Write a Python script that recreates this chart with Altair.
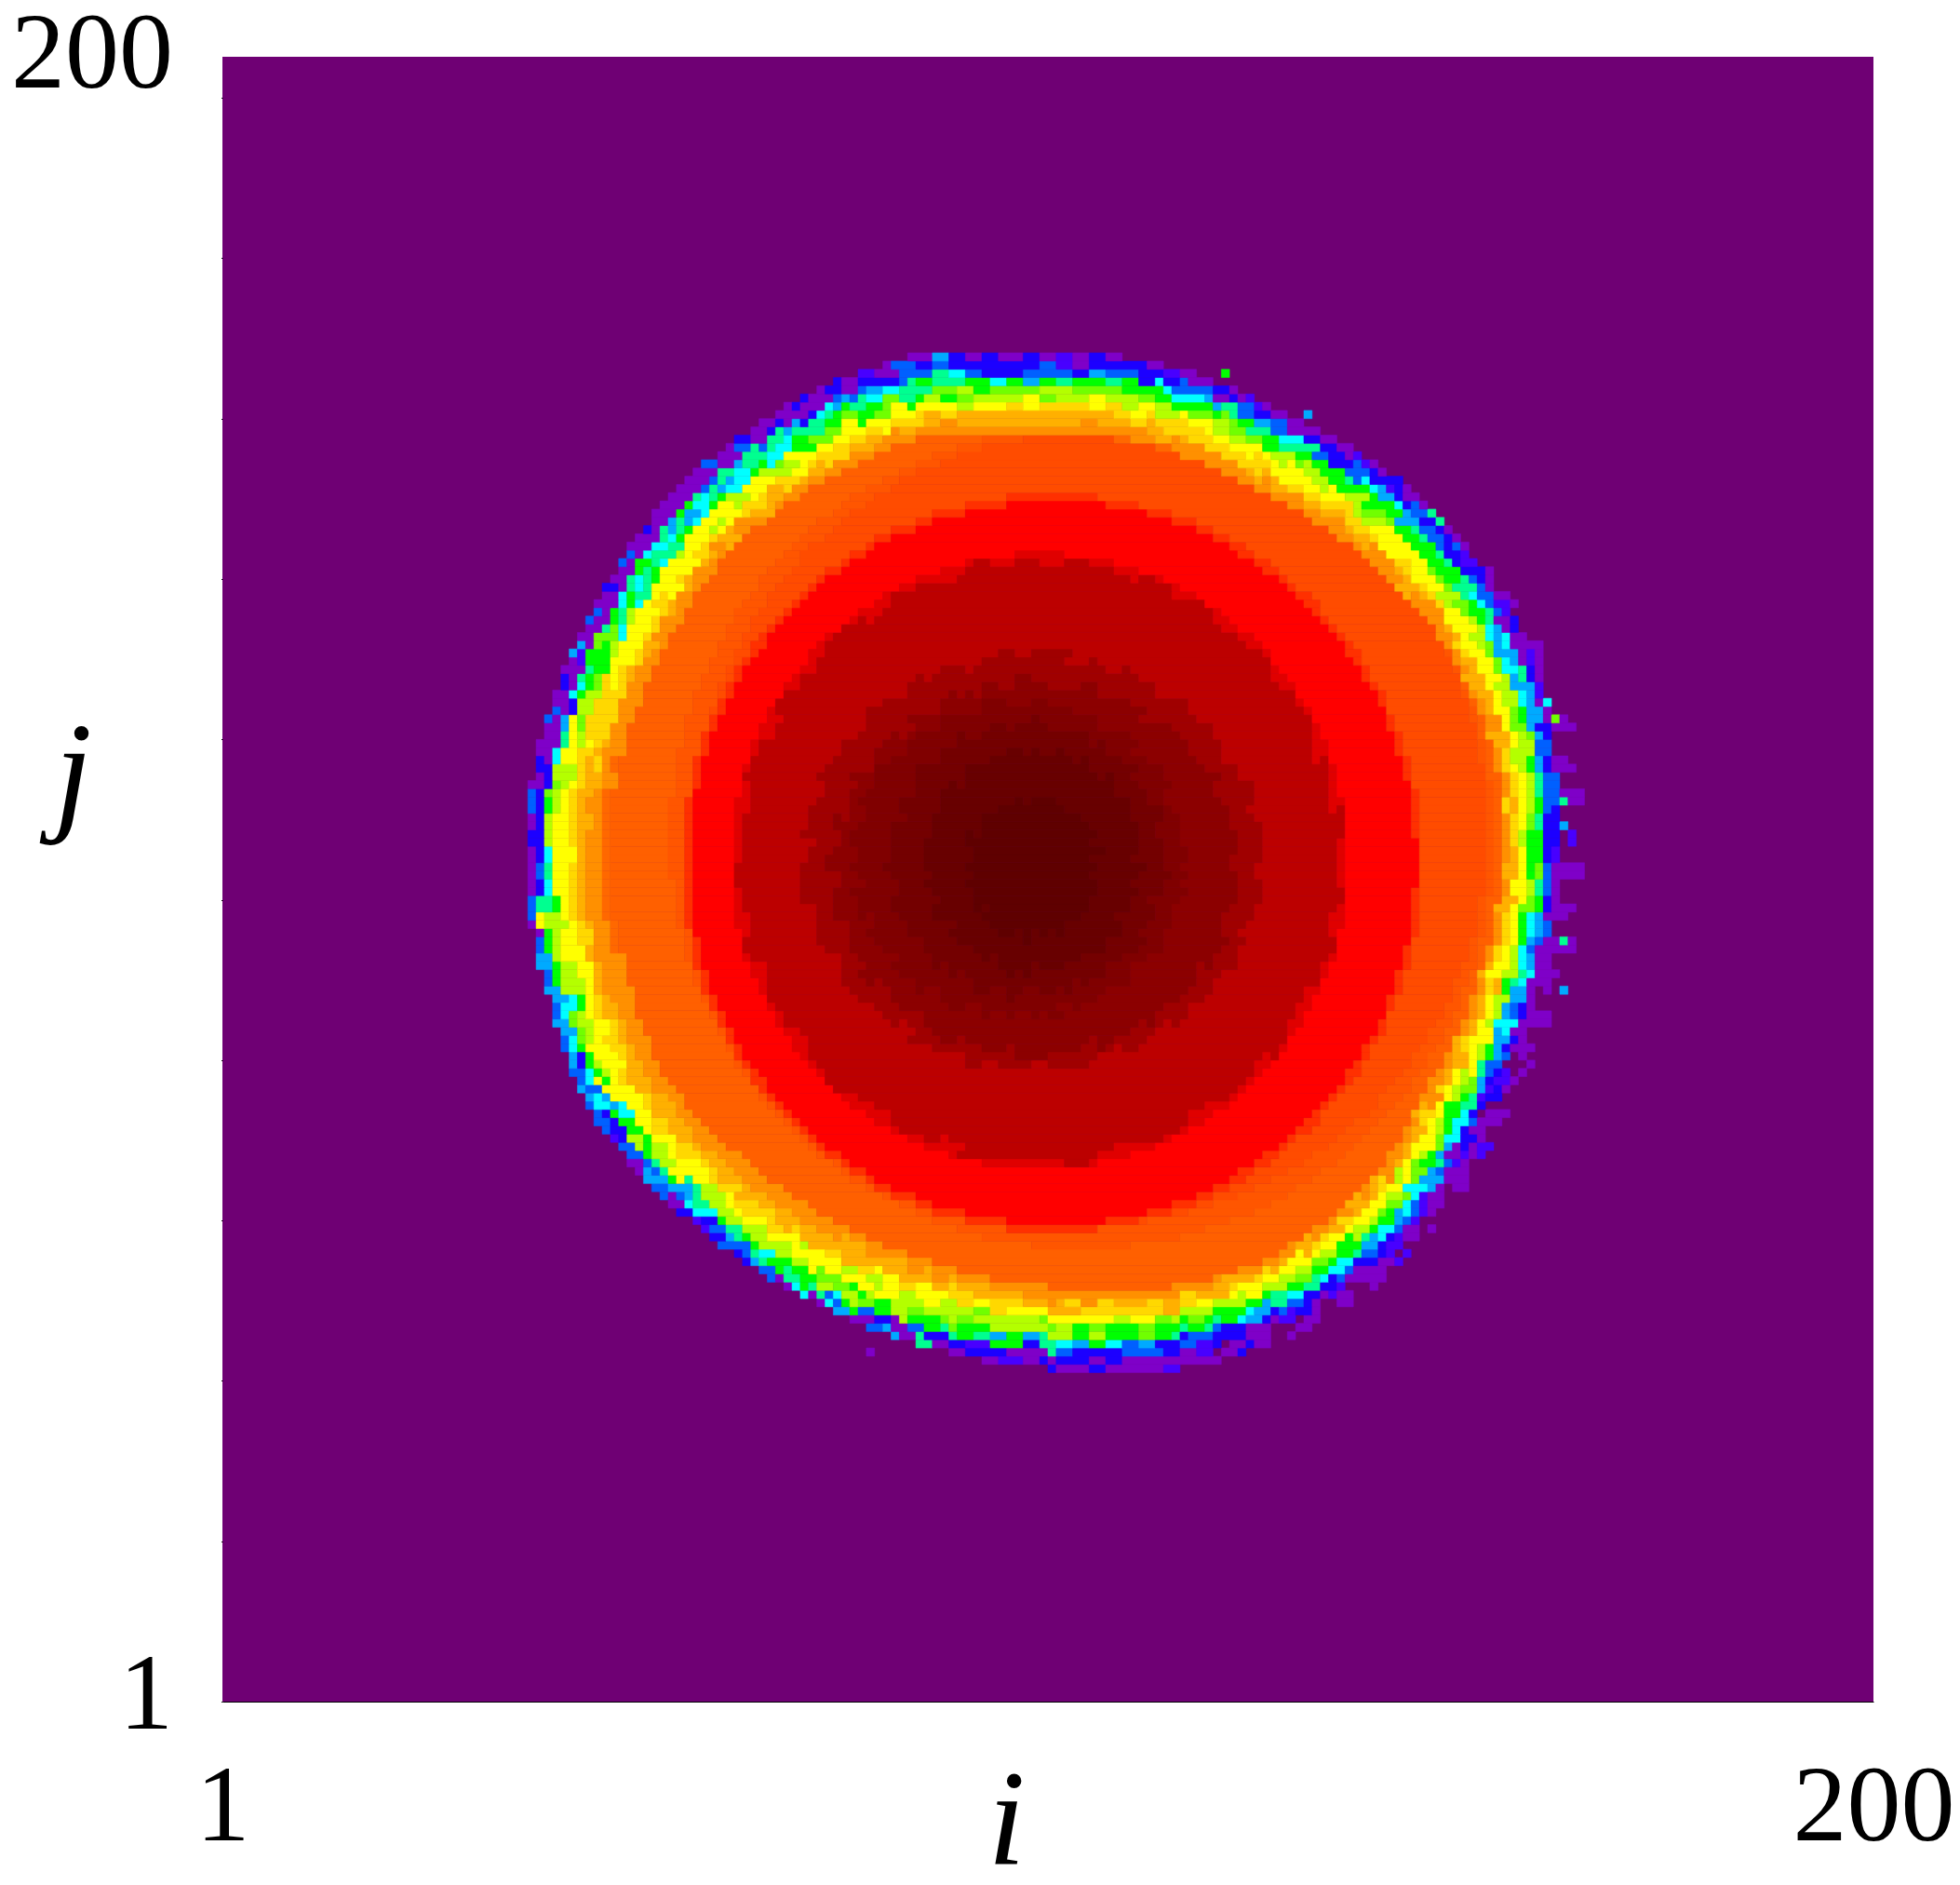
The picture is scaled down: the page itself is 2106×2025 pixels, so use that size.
import math
import altair as alt

alt.data_transformers.disable_max_rows()

N_CELLS = 200
BACKGROUND = "#6f0074"

# Colour of each rim code
RIM_COLOURS = {
    "v": "#7f00c8", "u": "#4800ff", "b": "#1c00ff", "a": "#0060ff", "s": "#00aaff",
    "c": "#00ffff", "t": "#00ff90", "g": "#00ff00", "l": "#70ff00", "k": "#b4ff00",
    "y": "#ffff00", "d": "#ffd800", "e": "#ffb000", "o": "#ff9000", "m": "#ff6800",
}

# Centre of the rim, in cells
RIM_CENTRE = (99.2, 102.4)
# Outer radius of the rim in cells, every 15 degrees counter-clockwise from the right
RIM_RADIUS = [66.5, 67, 66, 64.2, 62.5, 62.5, 62.4, 63.6, 63.3, 63.1, 62, 62,
              61.9, 61.4, 61.9, 60.5, 59.8, 60, 61.2, 63.7, 65.5, 66, 64.5, 65.2]

# Angular shift, in sectors, of the rim colours at each depth
RIM_STAGGER = [0, 5, 2, 8, 3, 11, 6, 1, 9, 4]

# Rim colours, outside to inside, for each 2 degree sector
RIM_SECTORS = [
    ".v.vbskyeo", "..vvacgyde", ".v.vasgkyo", "v..vbslyde", ".v.abtkydo", "..vvbcgydo", ".u.vasgyeo", "v.vvacgkyd", ".v.usglyeo", "..vbatkyeo",
    ".vvbslkydo", "v.uasgkyde", ".vbacgkyeo", "..vbstkydo", "v.vacglydo", ".vvbstkyde", "vuascgkyeo", ".vasgkydoo", "vbatglydeo", "vubstgkyeo",
    "tvbcgkydeo", "vbasgkyyeo", "vuatglkyde", "bascglydeo", "vbctgkydoo", "ubsglkyeoo", "vactglydeo", "vbagkkydeo", "vubtglydeo", "vbasglkyoo",
    "vatgkydeoo", "vbcglyydeo", "ubagkyydeo", "vbstgkydoo", "bvagllydeo", "vatglkydeo", "vbsgkydeoo", "uactlkydeo", "vbaglkyeoo", "bvctgyydeo",
    "vabgkkdeom", "bagllydeoo", "vbagkydeoo", "ubsglkdeom", "vabclkyeoo", "bbaglydeeo", "vbagkydeeo", "bvagkkyeoo", "vubtlkdeoo", "babglydeeo",
    "sbaglkdeoo", "vbctgkydeo", "abtgkydeeo", "vbaslkydeo", "ubagtkydeo", "vabctlkyeo", "bbsglyydeo", "vaatgkydeo", "bvstgkydeo", "vbcglkydoo",
    "vvbtglydeo", "vasctgyydo", "bvtcgkydeo", "vvatcgyeoo", "avtgcyydeo", "vbstglydeo", "vvttcgkydo", "vaatcykyde", "vvtcglydeo", "bvgtclydeo",
    "vvstcgkyde", "avtcgyydeo", "vvcstlkydo", "bvgtckydeo", "vvtcgyydoo", "avcstkydeo", "vvgtcyyeoo", "svtckyydeo", "vvltcydeoo", "bvgtkyydeo",
    "vvtcgkydoo", "avcglyydeo", "vubtkyydoo", "vvslkydeoo", "bvtglyydeo", "vvcgkydeoo", "avkgyydeoo", "vvlgkydoom", "bvgkyydeoo", "vbkyydeoom",
    "vbkyydeoom", "vbcyydeoom", "abtkydeoom", "vbckyyeoom", "abtkydeoom", "sakyydeoom", "abkyydeoom", "stkyydeoom", "aykyydeoom", "sgkyydeoom",
    "ascgkydeoo", "sglkydeeoo", "aslyydeeoo", "scgyydeeoo", "asgkydeeoo", "acykydeeoo", "ubsgyydeoo", "acgkyydeoo", "vagkyydeoo", "sckyydeeoo",
    "abgkydeeoo", "vbtgkydeoo", "bagyydeeoo", "uascyydeoo", "batgydeeoo", "ascgkydeeo", "bagkkydeoo", "sctkyydeoo", "abgyydeeoo", "vactkydeoo",
    "csgkydeeoo", "vagkkydeoo", "ctgkyydeoo", "sgkkydeeoo", "vtckyydeoo", "agkkydeeoo", "stlkydeeoo", "vagkyydeoo", "tgkyydeeoo", "vaglkydeoo",
    "vbglkkydeo", "bvtgkyydeo", "vagkkydeoo", "ubtglkydeo", "vbgkkyydeo", "bbglkkdeoo", "vubgkydeeo", "vbtlkkyeoo", "bvagkydeeo", "vvbgkyydeo",
    "vvbsgkydeo", "vbbgkkydeo", "ubasglydeo", "vvatgkydoo", "vbbclkyeoo", "vvasgkydeo", "bvugtlkydo", "vvbcgkyeoo", ".vbatglydo", "vuvsglkyeo",
    "v.vbcgkyeo", ".vubsgkyde", "vvbatlkyeo", "..vacgkydo", "v.ubtgyyeo", ".vvsclkyeo", "u.vbcgkyde", ".vbatgkyeo", "v.uasglydo", ".vvbcgkyeo",
    ".vubstgkye", "v.vacgkyeo", ".vvbclkyde", "u.vasglyeo", ".vubtgkydo", "v.basgyyeo", ".vvactlyeo", ".v.ucgkyde", "vvbstgyeoo", ".vuaslkyeo",
    ".v.vacgyeo", "v.vbslkyeo", ".vvasgkyde", "..vbclyeoo", ".v.uagkydo", "v.vbsgyyeo", ".vvacgkyeo", "..vbslkyde", ".v.vatgyeo", "v.vbsgkyeo",
]

# Isolated cells outside the rim: i, j, code
STRAY_CELLS = [(122, 162, "g"), (132, 157, "s"), (161, 122, "c"), (162, 120, "l"), (163, 110, "t"),
               (163, 107, "s"), (163, 87, "s"), (163, 93, "t"), (79, 43, "v")]

# Rings, innermost first: centre i, centre j, radius i, radius j, colour
RINGS = [
    (98.6, 101.9, 8.0, 8.5, "#5f0000"),
    (98.7, 102.9, 13.0, 13.5, "#680000"),
    (98.0, 102.9, 16.5, 16.5, "#740000"),
    (97.0, 102.9, 20.0, 19.0, "#800000"),
    (98.9, 101.8, 24.4, 22.6, "#8c0000"),
    (98.7, 102.7, 27.6, 25.0, "#a00000"),
    (99.5, 102.7, 36.4, 36.4, "#bc0000"),
    (99.5, 102.7, 37.4, 37.4, "#e00000"),
    (101.1, 102.5, 44.0, 43.9, "#ff0000"),
    (101.1, 102.5, 44.9, 44.8, "#ff3000"),
    (105.6, 106.6, 48.1, 48.1, "#ff4c00"),
    (104.6, 105.5, 49.9, 49.9, "#ff5600"),
]
BODY_COLOUR = "#ff6000"
# How many of the rings have a wobbling edge
WOBBLY_RINGS = 7
# Edge wobble in cells, every 5 degrees
RING_WOBBLE = [0.4, -0.6, 0.7, 0, -0.8, 0.5, -0.3, 0.8, -0.5, 0.2, 0.6, -0.7,
               0.3, -0.2, 0.8, -0.6, 0, 0.5, -0.8, 0.4, 0.7, -0.4, -0.1, 0.6,
               -0.7, 0.3, 0.8, -0.5, 0.1, -0.8, 0.6, 0.2, -0.4, 0.7, -0.6, 0.4,
               0, -0.7, 0.5, 0.8, -0.3, -0.6, 0.6, 0.1, -0.8, 0.7, -0.2, 0.3,
               -0.5, 0.8, 0, -0.6, 0.4, 0.6, -0.8, 0.2, 0.5, -0.4, 0.7, -0.1,
               -0.7, 0.3, 0.8, -0.3, 0.5, -0.6, 0.1, 0.7, -0.5, 0.4, -0.8, 0.6]


def rim_radius(angle):
    pos = angle / 15.0
    lo = int(pos) % 24
    hi = (lo + 1) % 24
    frac = pos - int(pos)
    return RIM_RADIUS[lo] * (1 - frac) + RIM_RADIUS[hi] * frac


def cell_colour(i, j):
    dx = i - RIM_CENTRE[0]
    dy = j - RIM_CENTRE[1]
    r = math.hypot(dx, dy)
    angle = math.degrees(math.atan2(dy, dx)) % 360
    outer = rim_radius(angle)
    if r > outer:
        return None
    depth = int(outer - r)
    if depth < 10:
        sector = (int(angle / 2) + RIM_STAGGER[depth]) % 180
        code = RIM_SECTORS[sector][depth]
        return None if code == "." else RIM_COLOURS[code]
    for k, (ci, cj, ri, rj, colour) in enumerate(RINGS):
        wobble = 0
        if k < WOBBLY_RINGS:
            ang = math.degrees(math.atan2(j - cj, i - ci)) % 360
            wobble = RING_WOBBLE[(int(ang / 5) + 11 * k) % 72]
        if ((i - ci) / (ri + wobble)) ** 2 + ((j - cj) / (rj + wobble)) ** 2 <= 1:
            return colour
    return BODY_COLOUR


grid = {}
for j in range(1, N_CELLS + 1):
    for i in range(1, N_CELLS + 1):
        colour = cell_colour(i, j)
        if colour is not None:
            grid[(i, j)] = colour
for i, j, code in STRAY_CELLS:
    grid[(i, j)] = RIM_COLOURS[code]

records = []
for j in range(1, N_CELLS + 1):
    i = 1
    while i <= N_CELLS:
        colour = grid.get((i, j))
        if colour is None:
            i += 1
            continue
        start = i
        while i <= N_CELLS and grid.get((i, j)) == colour:
            i += 1
        records.append({"x0": start - 0.5, "x1": i - 0.5, "y0": j - 0.5, "y1": j + 0.5, "c": colour})

X_LABEL_VALUES = [0.5, 200.5]
Y_TICK_VALUES = [0.5, 20, 39.5, 59, 78.5, 98, 117.5, 137, 156.5, 176, 195.5, 200.5]
LABEL_EXPR = "datum.value == 0.5 ? '1' : datum.value == 200.5 ? '200' : ''"

x_axis = alt.Axis(
    values=X_LABEL_VALUES, labelExpr=LABEL_EXPR, ticks=False, grid=False,
    domain=True, domainColor="#000000", domainWidth=1,
    labelFont="Liberation Serif", labelFontSize=116, labelColor="#000000",
    labelPadding=56, labelFlush=False, labelOverlap=False, labelBound=False,
    title="i", titleFont="Liberation Serif", titleFontStyle="italic", titleFontWeight="normal",
    titleFontSize=146, titleColor="#000000", titleX=842, titleY=173,
    titleBaseline="alphabetic", titleAlign="center",
)
y_axis = alt.Axis(
    values=Y_TICK_VALUES, labelExpr=LABEL_EXPR, grid=False, domain=False,
    ticks=True, tickSize=1.5, tickWidth=1, tickColor="#000000",
    tickOpacity={"condition": {"test": "datum.value == 200.5", "value": 0}, "value": 1},
    labelFont="Liberation Serif", labelFontSize=116, labelColor="#000000",
    labelPadding=52, labelBaseline="middle", labelFlush=False, labelOverlap=False, labelBound=False,
    labelOffset={"condition": {"test": "datum.value == 200.5", "value": -3}, "value": -7},
    title="j", titleFont="Liberation Serif", titleFontStyle="italic", titleFontWeight="normal",
    titleFontSize=146, titleColor="#000000", titleAngle=0, titleX=-161, titleY=815,
    titleBaseline="alphabetic", titleAlign="center",
)

chart = (
    alt.Chart(alt.Data(values=records))
    .mark_rect(strokeWidth=0.5)
    .encode(
        x=alt.X("x0:Q", scale=alt.Scale(domain=[0.5, 200.5], nice=False, zero=False), axis=x_axis),
        x2="x1:Q",
        y=alt.Y("y0:Q", scale=alt.Scale(domain=[0.5, 200.5], nice=False, zero=False), axis=y_axis),
        y2="y1:Q",
        fill=alt.Fill("c:N", scale=None, legend=None),
        stroke=alt.Stroke("c:N", scale=None, legend=None),
    )
    .properties(
        width=1774, height=1767,
        autosize=alt.AutoSizeParams(type="none"),
        padding={"left": 231, "top": 53, "right": 85, "bottom": 189},
        background="#ffffff",
    )
    .configure_view(fill=BACKGROUND, stroke=None)
)

chart.save("out.html", embed_options={"renderer": "svg", "actions": False})
